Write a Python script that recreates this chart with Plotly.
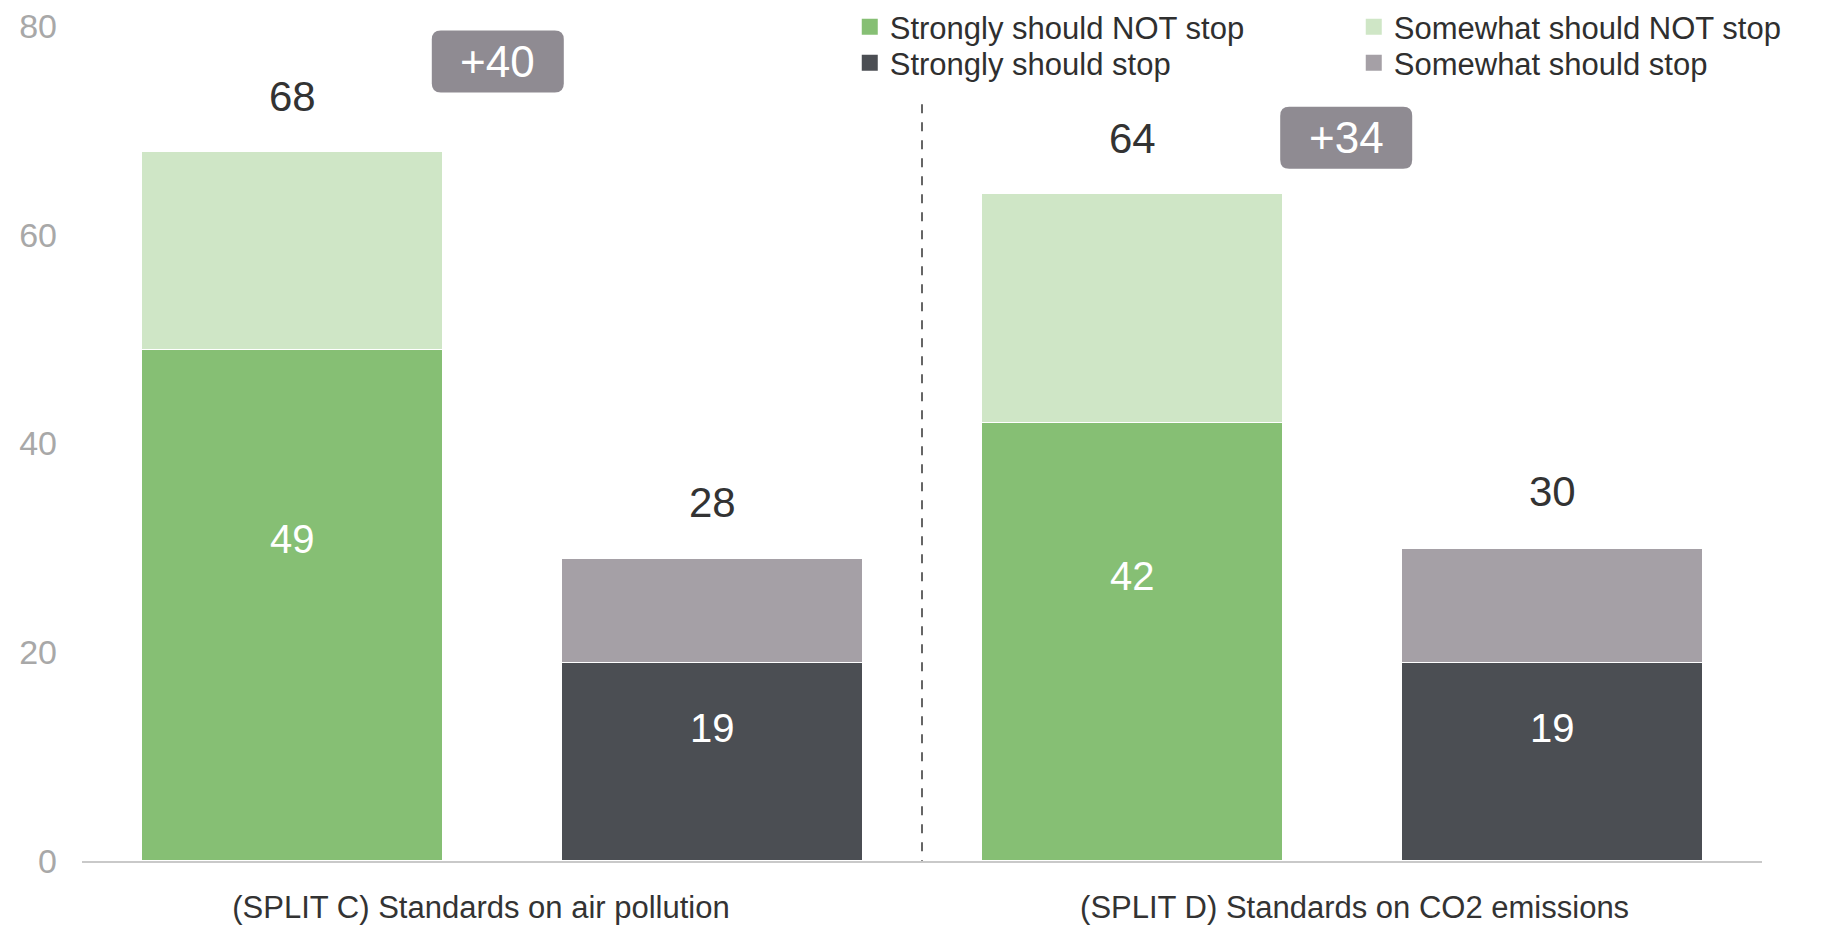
import plotly.graph_objects as go

# ---------------- data ----------------
groups = ["(SPLIT C) Standards on air pollution", "(SPLIT D) Standards on CO2 emissions"]
strong_not = [49, 42]
somewhat_not = [19, 22]
strong_stop = [19, 19]
somewhat_stop = [10, 11]
total_not_labels = [68, 64]
total_stop_labels = [28, 30]
net_labels = ["+40", "+34"]
y_ticks = [0, 20, 40, 60, 80]

# ---------------- style ----------------
FONT = "Liberation Sans, Arial, sans-serif"
C_STRONG_NOT = "#86bf74"
C_SOME_NOT = "#cfe6c6"
C_STRONG_STOP = "#4b4e53"
C_SOME_STOP = "#a5a0a6"
C_BOX = "#8f8b92"
BAR_W = 0.72

not_x = [2 * i for i in range(len(groups))]
stop_x = [2 * i + 1 for i in range(len(groups))]

fig = go.Figure()
line = dict(color="white", width=1.5)
fig.add_bar(x=not_x, y=strong_not, name="Strongly should NOT stop", width=BAR_W,
            marker=dict(color=C_STRONG_NOT, line=line), showlegend=False)
fig.add_bar(x=stop_x, y=strong_stop, name="Strongly should stop", width=BAR_W,
            marker=dict(color=C_STRONG_STOP, line=line), showlegend=False)
fig.add_bar(x=not_x, y=somewhat_not, name="Somewhat should NOT stop", width=BAR_W,
            marker=dict(color=C_SOME_NOT, line=line), showlegend=False)
fig.add_bar(x=stop_x, y=somewhat_stop, name="Somewhat should stop", width=BAR_W,
            marker=dict(color=C_SOME_STOP, line=line), showlegend=False)

# legend entries (square swatches), one legend per entry for precise placement
for name, col, leg in [("Strongly should NOT stop", C_STRONG_NOT, "legend"),
                       ("Strongly should stop", C_STRONG_STOP, "legend2"),
                       ("Somewhat should NOT stop", C_SOME_NOT, "legend3"),
                       ("Somewhat should stop", C_SOME_STOP, "legend4")]:
    fig.add_scatter(x=[None], y=[None], mode="markers", name=name, legend=leg,
                    marker=dict(symbol="square", size=16, color=col), hoverinfo="skip")

annotations = []
for i in range(len(groups)):
    annotations.append(dict(x=not_x[i], y=strong_not[i] + somewhat_not[i], yshift=55,
                            text=str(total_not_labels[i]), showarrow=False,
                            font=dict(size=42, color="#333333", family=FONT)))
    annotations.append(dict(x=stop_x[i], y=strong_stop[i] + somewhat_stop[i], yshift=56,
                            text=str(total_stop_labels[i]), showarrow=False,
                            font=dict(size=42, color="#333333", family=FONT)))
    annotations.append(dict(x=not_x[i], y=strong_not[i] / 2, yshift=66,
                            text=str(strong_not[i]), showarrow=False,
                            font=dict(size=40, color="white", family=FONT)))
    annotations.append(dict(x=stop_x[i], y=strong_stop[i] / 2, yshift=34,
                            text=str(strong_stop[i]), showarrow=False,
                            font=dict(size=40, color="white", family=FONT)))

# net difference boxes (layout positions)
BOX_POS = [(0.49, 76.6), (2.51, 69.3)]
shapes = []
bw, bh, r = 66, 31, 9
box_path = (f"M{-bw + r},{-bh} L{bw - r},{-bh} Q{bw},{-bh} {bw},{-bh + r} "
            f"L{bw},{bh - r} Q{bw},{bh} {bw - r},{bh} L{-bw + r},{bh} "
            f"Q{-bw},{bh} {-bw},{bh - r} L{-bw},{-bh + r} Q{-bw},{-bh} {-bw + r},{-bh} Z")
for (bx, by), txt in zip(BOX_POS, net_labels):
    shapes.append(dict(type="path", xref="x", yref="y", xsizemode="pixel", ysizemode="pixel",
                       xanchor=bx, yanchor=by, path=box_path,
                       fillcolor=C_BOX, line=dict(width=0), layer="above"))
    annotations.append(dict(x=bx, y=by, text=txt, showarrow=False,
                            font=dict(size=44, color="white", family=FONT)))

shapes.append(dict(type="line", xref="x", yref="y", x0=1.5, x1=1.5, y0=-0.8, y1=72.6,
                   line=dict(color="#333333", width=1.5, dash="dash")))

leg_common = dict(font=dict(size=31, color="#2f2f2f", family=FONT), bgcolor="rgba(0,0,0,0)",
                  xanchor="left", yanchor="middle", orientation="v", itemclick=False,
                  itemwidth=30)
fig.update_layout(
    width=1826, height=917,
    margin=dict(l=74, r=72, t=18, b=64, autoexpand=False),
    paper_bgcolor="white", plot_bgcolor="white",
    barmode="stack",
    font=dict(family=FONT),
    showlegend=True,
    legend=dict(x=0.457, y=0.9988, **leg_common),
    legend2=dict(x=0.457, y=0.9557, **leg_common),
    legend3=dict(x=0.757, y=0.9988, **leg_common),
    legend4=dict(x=0.757, y=0.9557, **leg_common),
    annotations=annotations,
    shapes=shapes,
    xaxis=dict(range=[-0.5, 3.5], tickvals=[0.45, 2.53], ticktext=groups,
               showgrid=False, zeroline=False, showline=True, linecolor="#c9c9c9", linewidth=1.5,
               ticks="", ticklabelstandoff=18, ticklabeloverflow="allow",
               tickfont=dict(size=31, color="#333333", family=FONT)),
    yaxis=dict(range=[0, 80], tickvals=y_ticks, showgrid=False, zeroline=False, showline=False,
               ticks="", ticklabelstandoff=24, ticklabeloverflow="allow",
               tickfont=dict(size=34, color="#a8a8a8", family=FONT)),
)

fig.write_html("out.html")
